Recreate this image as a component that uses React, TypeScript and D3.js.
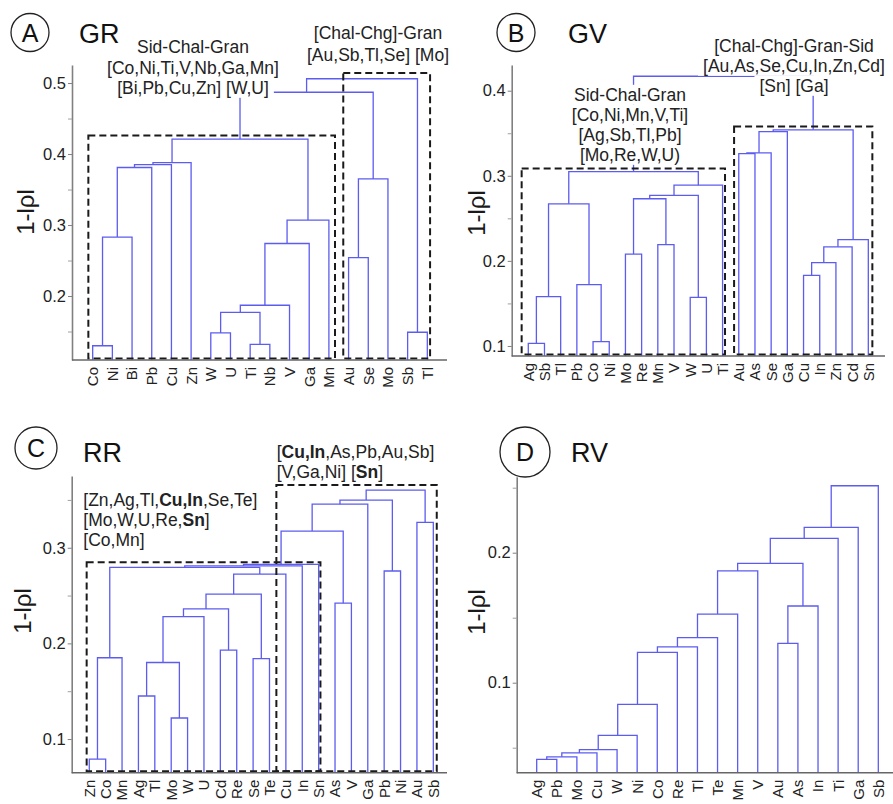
import React, { useEffect, useRef } from 'react';
import * as d3 from 'd3';

// Each merge: [left, right, height]. A string is a leaf, a number is an earlier merge.
type Ref = string | number;
type Merge = [Ref, Ref, number];

// ---- A: GR ----
const grLeaves = ['Co', 'Ni', 'Bi', 'Pb', 'Cu', 'Zn', 'W', 'U', 'Ti', 'Nb', 'V', 'Ga', 'Mn', 'Au', 'Se', 'Mo', 'Sb', 'Tl'];
const grMerges: Merge[] = [
  ['Co', 'Ni', 0.13], [0, 'Bi', 0.283], [1, 'Pb', 0.381], [2, 'Cu', 0.385], [3, 'Zn', 0.388],
  ['W', 'U', 0.148], ['Ti', 'Nb', 0.132], [5, 6, 0.177], [7, 'V', 0.187], [8, 'Ga', 0.274],
  [9, 'Mn', 0.307], [4, 10, 0.421], ['Au', 'Se', 0.254], [12, 'Mo', 0.365], [11, 13, 0.487],
  ['Sb', 'Tl', 0.149], [14, 15, 0.506],
];
const grMajor = [0.2, 0.3, 0.4, 0.5];
const grMinor = [0.15, 0.25, 0.35, 0.45];
const grBoxes = [{ from: 0.78, to: 13.31, top: 0.426 }, { from: 13.73, to: 18.14, top: 0.514 }];
const grNoteLeft = ['Sid-Chal-Gran', '[Co,Ni,Ti,V,Nb,Ga,Mn]', '[Bi,Pb,Cu,Zn] [W,U]'];
const grNoteRight = ['[Chal-Chg]-Gran', '[Au,Sb,Tl,Se] [Mo]'];

// ---- B: GV ----
const gvLeaves = ['Ag', 'Sb', 'Tl', 'Pb', 'Co', 'Ni', 'Mo', 'Re', 'Mn', 'V', 'W', 'U', 'Ti', 'Au', 'As', 'Se', 'Ga', 'Cu', 'In', 'Zn', 'Cd', 'Sn'];
const gvMerges: Merge[] = [
  ['Ag', 'Sb', 0.103], [0, 'Tl', 0.158], ['Co', 'Ni', 0.105], ['Pb', 2, 0.172], [1, 3, 0.267],
  ['Mo', 'Re', 0.208], ['Mn', 'V', 0.219], [5, 6, 0.273], ['W', 'U', 0.157], [7, 8, 0.277],
  [9, 'Ti', 0.289], [4, 10, 0.305], ['Au', 'As', 0.326], [12, 'Se', 0.327], [13, 'Ga', 0.352],
  ['Cu', 'In', 0.183], [15, 'Zn', 0.198], [16, 'Cd', 0.2165], [17, 'Sn', 0.225], [14, 18, 0.354],
  [11, 19, 0.417],
];
const gvMajor = [0.1, 0.2, 0.3, 0.4];
const gvMinor = [0.15, 0.25, 0.35];
const gvBoxes = [{ from: 0.59, to: 13.15, top: 0.3087 }, { from: 13.71, to: 22.25, top: 0.358 }];
const gvNoteLeft = ['Sid-Chal-Gran', '[Co,Ni,Mn,V,Ti]', '[Ag,Sb,Tl,Pb]', '[Mo,Re,W,U)'];
const gvNoteRight = ['[Chal-Chg]-Gran-Sid', '[Au,As,Se,Cu,In,Zn,Cd]', '[Sn] [Ga]'];

// ---- C: RR ----
const rrLeaves = ['Zn', 'Co', 'Mn', 'Ag', 'Tl', 'Mo', 'W', 'U', 'Cd', 'Re', 'Se', 'Te', 'Cu', 'In', 'Sn', 'As', 'V', 'Ga', 'Pb', 'Ni', 'Au', 'Sb'];
const rrMerges: Merge[] = [
  ['Zn', 'Co', 0.079], [0, 'Mn', 0.185], ['Ag', 'Tl', 0.145], ['Mo', 'W', 0.122], [2, 3, 0.18],
  [4, 'U', 0.228], ['Cd', 'Re', 0.193], [5, 6, 0.236], ['Se', 'Te', 0.184], [7, 8, 0.2515],
  [9, 'Cu', 0.2725], [1, 10, 0.2795], [11, 'In', 0.281], [12, 'Sn', 0.2825], ['As', 'V', 0.242],
  [13, 14, 0.3174], [15, 'Ga', 0.3455], ['Pb', 'Ni', 0.2757], [16, 17, 0.3498], ['Au', 'Sb', 0.3265],
  [18, 19, 0.3603],
];
const rrMajor = [0.1, 0.2, 0.3];
const rrMinor = [0.15, 0.25, 0.35];
const rrBoxes = [{ from: 0.84, to: 15.11, top: 0.2847 }, { from: 12.42, to: 22.21, top: 0.3655 }];
const rrNoteLeft = ['[Zn,Ag,Tl,**Cu,In**,Se,Te]', '[Mo,W,U,Re,**Sn**]', '[Co,Mn]'];
const rrNoteRight = ['[**Cu,In**,As,Pb,Au,Sb]', '[V,Ga,Ni] [**Sn**]'];

// ---- D: RV ----
const rvLeaves = ['Ag', 'Pb', 'Mo', 'Cu', 'W', 'Ni', 'Co', 'Re', 'Tl', 'Te', 'Mn', 'V', 'Au', 'As', 'In', 'Ti', 'Ga', 'Sb'];
const rvMerges: Merge[] = [
  ['Ag', 'Pb', 0.041], [0, 'Mo', 0.043], [1, 'Cu', 0.046], [2, 'W', 0.0485], [3, 'Ni', 0.0595],
  [4, 'Co', 0.0834], [5, 'Re', 0.1234], [6, 'Tl', 0.1275], [7, 'Te', 0.1346], [8, 'Mn', 0.1528],
  [9, 'V', 0.186], ['Au', 'As', 0.1303], [11, 'In', 0.159], [10, 12, 0.1918], [13, 'Ti', 0.211],
  [14, 'Ga', 0.2195], [15, 'Sb', 0.2515],
];
const rvMajor = [0.1, 0.2];
const rvMinor = [0.05, 0.15, 0.25];

const FONT = '"Liberation Sans", Arial, Helvetica, sans-serif';
const LINE = '#5c5cf0';

const panels = [
  {
    letter: 'A', title: 'GR', leaves: grLeaves, merges: grMerges, major: grMajor, minor: grMinor, boxes: grBoxes,
    frame: { x0: 73, x1: 447, axisX: 72, axisEnd: 447, yBottom: 360, yTop: 65, vMin: 0.1099, vMax: 0.5254 },
    ylab: [25, 212], circle: { cx: 30, cy: 32.5, r: 19 }, titlePos: [79, 43],
    notes: [
      { lines: grNoteLeft, x: 193, anchor: 'middle', baselines: [52.7, 73.5, 94] },
      { lines: grNoteRight, x: 378, anchor: 'middle', baselines: [39, 61] },
    ],
  },
  {
    letter: 'B', title: 'GV', leaves: gvLeaves, merges: gvMerges, major: gvMajor, minor: gvMinor, boxes: gvBoxes,
    frame: { x0: 512.1, x1: 884.5, axisX: 511.7, axisEnd: 885, yBottom: 356, yTop: 65, vMin: 0.0882, vMax: 0.4302 },
    ylab: [476.7, 213], circle: { cx: 516, cy: 32.5, r: 19 }, titlePos: [568, 43],
    notes: [
      { lines: gvNoteRight, x: 794, anchor: 'middle', baselines: [51.7, 72, 92] },
      { lines: gvNoteLeft, x: 630, anchor: 'middle', baselines: [101, 121, 141, 161] },
    ],
  },
  {
    letter: 'C', title: 'RR', leaves: rrLeaves, merges: rrMerges, major: rrMajor, minor: rrMinor, boxes: rrBoxes,
    frame: { x0: 72.9, x1: 449.7, axisX: 71.7, axisEnd: 447, yBottom: 772.7, yTop: 476, vMin: 0.0648, vMax: 0.375 },
    ylab: [22.5, 611], circle: { cx: 36, cy: 448, r: 21 }, titlePos: [83, 462],
    notes: [
      { lines: rrNoteLeft, x: 83.3, anchor: 'start', baselines: [506, 526, 546] },
      { lines: rrNoteRight, x: 276.7, anchor: 'start', baselines: [458.3, 478.3] },
    ],
  },
  {
    letter: 'D', title: 'RV', leaves: rvLeaves, merges: rvMerges, major: rvMajor, minor: rvMinor, boxes: [],
    frame: { x0: 516.6, x1: 898.4, axisX: 516.7, axisEnd: 893, yBottom: 772.7, yTop: 476.7, vMin: 0.03077, vMax: 0.25846 },
    ylab: [476.7, 612], circle: { cx: 525, cy: 452, r: 25 }, titlePos: [571, 462],
    notes: [],
  },
];

function drawPanel(svg: any, p: any) {
  const f = p.frame;
  const g = svg.append('g');
  const x = d3.scaleLinear().domain([0, p.leaves.length + 1]).range([f.x0, f.x1]);
  const y = d3.scaleLinear().domain([f.vMin, f.vMax]).range([f.yBottom, f.yTop]);

  // dendrogram links
  const nodes: { x: number; h: number }[] = [];
  const get = (r: Ref) => typeof r === 'string'
    ? { x: x(p.leaves.indexOf(r) + 1), h: f.vMin }
    : nodes[r];
  const paths: string[] = [];
  p.merges.forEach(([a, b, h]: Merge) => {
    const A = get(a), B = get(b);
    paths.push(`M${A.x},${y(A.h)}V${y(h)}H${B.x}V${y(B.h)}`);
    nodes.push({ x: (A.x + B.x) / 2, h });
  });
  g.append('g').selectAll('path').data(paths).enter().append('path')
    .attr('d', (d: string) => d)
    .attr('fill', 'none')
    .attr('stroke', LINE)
    .attr('stroke-width', 1.3);

  // dashed cluster boxes
  g.append('g').selectAll('rect').data(p.boxes).enter().append('rect')
    .attr('x', (d: any) => x(d.from))
    .attr('y', (d: any) => y(d.top))
    .attr('width', (d: any) => x(d.to) - x(d.from))
    .attr('height', (d: any) => f.yBottom - 1.5 - y(d.top))
    .attr('fill', 'none')
    .attr('stroke', '#1a1a1a')
    .attr('stroke-width', 2)
    .attr('stroke-dasharray', '7,4');

  // y axis
  const yAxis = g.append('g')
    .attr('transform', `translate(${f.axisX},0)`)
    .call(d3.axisLeft(y).tickValues(p.major).tickSize(4).tickSizeOuter(0).tickFormat(d3.format('.1f')));
  yAxis.select('.domain').attr('stroke', '#808080').attr('stroke-width', 1.6);
  yAxis.selectAll('.tick line').attr('stroke', '#808080');
  yAxis.selectAll('text').attr('font-size', 16.5).attr('font-family', FONT).attr('fill', '#222').attr('x', -6);
  const minor = g.append('g')
    .attr('transform', `translate(${f.axisX},0)`)
    .call(d3.axisLeft(y).tickValues(p.minor).tickSize(4).tickFormat(() => ''));
  minor.select('.domain').remove();
  minor.selectAll('.tick line').attr('stroke', '#a0a0a0');

  // x axis line
  g.append('line')
    .attr('x1', f.axisX).attr('x2', f.axisEnd)
    .attr('y1', f.yBottom).attr('y2', f.yBottom)
    .attr('stroke', '#666').attr('stroke-width', 1.6);

  // leaf labels
  g.append('g').selectAll('text').data(p.leaves).enter().append('text')
    .attr('transform', (d: string, i: number) => `translate(${x(i + 1)},${f.yBottom + 7}) rotate(-90)`)
    .attr('dy', '0.36em')
    .attr('text-anchor', 'end')
    .attr('font-size', 15)
    .attr('fill', '#222')
    .text((d: string) => d);

  // y label
  g.append('text')
    .attr('transform', `translate(${p.ylab[0]},${p.ylab[1]}) rotate(-90)`)
    .attr('dy', '0.36em')
    .attr('text-anchor', 'middle')
    .attr('font-size', 24)
    .attr('fill', '#1a1a1a')
    .text('1-lρl');

  // panel letter and title
  g.append('circle')
    .attr('cx', p.circle.cx).attr('cy', p.circle.cy).attr('r', p.circle.r)
    .attr('fill', '#fff').attr('stroke', '#222').attr('stroke-width', 1.3);
  g.append('text')
    .attr('x', p.circle.cx).attr('y', p.circle.cy)
    .attr('dy', '0.36em').attr('text-anchor', 'middle')
    .attr('font-size', 25).attr('fill', '#111')
    .text(p.letter);
  g.append('text')
    .attr('x', p.titlePos[0]).attr('y', p.titlePos[1])
    .attr('font-size', 27).attr('fill', '#111')
    .text(p.title);

  // annotation blocks, with a white backing that hides the links under them
  p.notes.forEach((note: any) => {
    const bg = g.append('g');
    const tg = g.append('g');
    note.lines.forEach((line: string, i: number) => {
      const t = tg.append('text')
        .attr('x', note.x).attr('y', note.baselines[i])
        .attr('text-anchor', note.anchor)
        .attr('font-size', 17.5).attr('fill', '#222');
      line.split('**').forEach((seg, k) => {
        if (!seg) return;
        t.append('tspan').attr('font-weight', k % 2 ? 'bold' : 'normal').text(seg);
      });
      const bb = (t.node() as SVGTextElement).getBBox();
      bg.append('rect')
        .attr('x', bb.x - 5).attr('width', bb.width + 10)
        .attr('y', note.baselines[i] - 16.2).attr('height', 20)
        .attr('fill', '#fff');
    });
  });
}

export default function App() {
  const svgRef = useRef<SVGSVGElement>(null);

  useEffect(() => {
    document.body.style.margin = '0';
    const svg = d3.select(svgRef.current);
    svg.selectAll('*').remove();
    panels.forEach(p => drawPanel(svg, p));
  }, []);

  return (
    <svg
      ref={svgRef}
      width={893}
      height={804}
      fontFamily={FONT}
      style={{ display: 'block', background: '#fff' }}
    />
  );
}
